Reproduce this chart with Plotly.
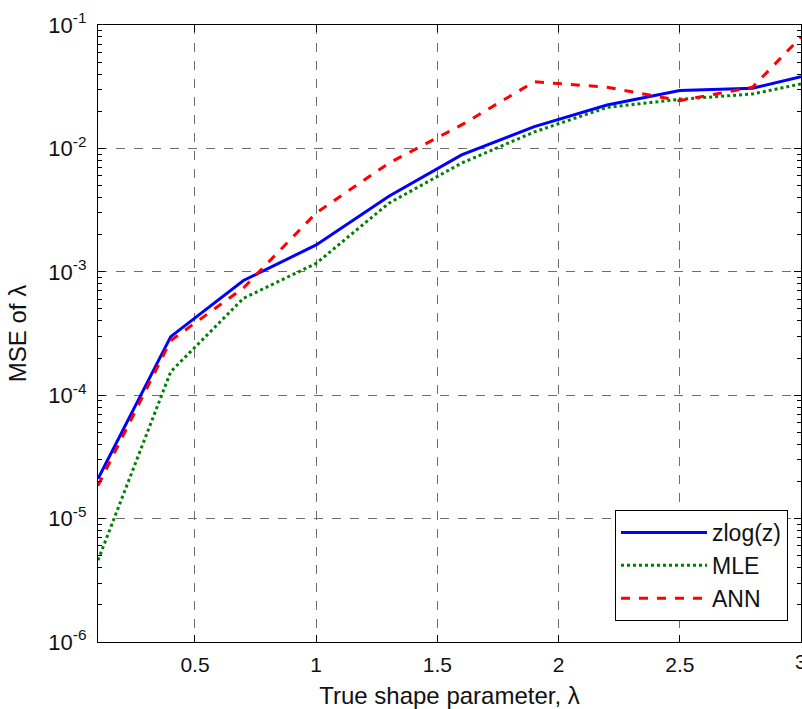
import plotly.graph_objects as go

lam = [0.1, 0.4, 0.7, 1.0, 1.3, 1.6, 1.9, 2.2, 2.5, 2.8, 3.0]
zlog = [2.1e-5, 2.98e-4, 8.5e-4, 1.65e-3, 4.1e-3, 8.85e-3, 1.5e-2, 2.25e-2, 2.94e-2, 3.07e-2, 3.81e-2]
mle = [4.6e-6, 1.55e-4, 6.1e-4, 1.17e-3, 3.6e-3, 7.6e-3, 1.36e-2, 2.15e-2, 2.5e-2, 2.76e-2, 3.33e-2]
ann = [1.85e-5, 2.77e-4, 7.4e-4, 3.0e-3, 7.6e-3, 1.55e-2, 3.47e-2, 3.13e-2, 2.44e-2, 3.13e-2, 8.0e-2]

xticks = [0.5, 1, 1.5, 2, 2.5, 3]
xticklabels = ["0.5", "1", "1.5", "2", "2.5", "3"]
yticks = [1e-6, 1e-5, 1e-4, 1e-3, 1e-2, 1e-1]
yticklabels = ["10<sup>-6</sup>", "10<sup>-5</sup>", "10<sup>-4</sup>",
               "10<sup>-3</sup>", "10<sup>-2</sup>", "10<sup>-1</sup>"]

font = "Liberation Sans, Arial, sans-serif"

fig = go.Figure()
fig.add_trace(go.Scatter(x=lam, y=zlog, mode="lines", name="zlog(z)",
                         line=dict(color="#0000FF", width=3)))
fig.add_trace(go.Scatter(x=lam, y=mle, mode="lines", name="MLE",
                         line=dict(color="#008000", width=3, dash="dot")))
fig.add_trace(go.Scatter(x=lam, y=ann, mode="lines", name="ANN",
                         line=dict(color="#FF0000", width=3, dash="dash")))

# the last x tick label sits on the figure edge; draw it as text so it is not dropped
fig.add_annotation(x=xticks[-1], y=0, xref="x", yref="paper", text=xticklabels[-1],
                   showarrow=False, yanchor="top", xanchor="center", yshift=-6,
                   font=dict(size=21, color="#111111", family=font))

fig.update_layout(
    width=802, height=709,
    margin=dict(l=98, r=1, t=25, b=67, autoexpand=False),
    paper_bgcolor="white", plot_bgcolor="white",
    font=dict(family=font, size=20, color="#111111"),
    showlegend=True,
    legend=dict(x=0.9815, y=0.034, xanchor="right", yanchor="bottom",
                bgcolor="white", bordercolor="black", borderwidth=1,
                itemwidth=86, font=dict(size=23), tracegroupgap=0),
    xaxis=dict(range=[0.1, 3], tickvals=xticks[:-1], ticktext=xticklabels[:-1],
               automargin=False, tickfont=dict(size=21), ticklabelstandoff=4,
               showline=True, linecolor="black", linewidth=1.2, mirror="ticks",
               ticks="inside", ticklen=7, tickcolor="black",
               showgrid=True, gridcolor="#6e6e6e", griddash="dash", gridwidth=1.2,
               zeroline=False,
               title=dict(text="True shape parameter, λ", standoff=11)),
    yaxis=dict(type="log", range=[-6, -1], tickvals=yticks, ticktext=yticklabels,
               automargin=False, tickfont=dict(size=22), ticklabelstandoff=6,
               showline=True, linecolor="black", linewidth=1.2, mirror="ticks",
               ticks="inside", ticklen=7, tickcolor="black",
               minor=dict(dtick="D1", ticks="inside", ticklen=4, tickcolor="black",
                          showgrid=False),
               showgrid=True, gridcolor="#6e6e6e", griddash="dash", gridwidth=1.2,
               zeroline=False,
               title=dict(text="MSE of λ", standoff=14)),
)

fig.write_html("out.html", config={"displayModeBar": False})
with open("out.html", encoding="utf-8") as f:
    html = f.read()
html = html.replace("<head>", "<head><style>html,body{margin:0;padding:0;overflow:hidden;}</style>", 1)
with open("out.html", "w", encoding="utf-8") as f:
    f.write(html)
